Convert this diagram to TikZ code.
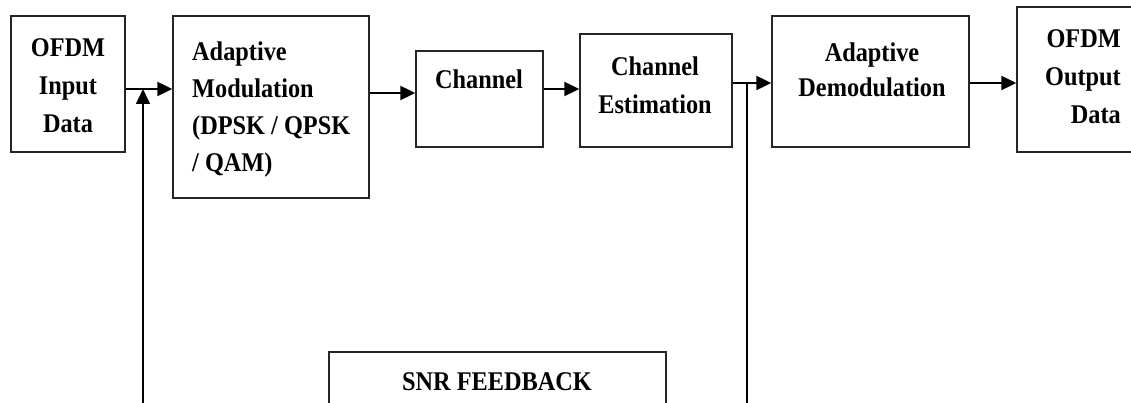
\documentclass[tikz,border=0pt]{standalone}
\usepackage{fontspec}
\setmainfont{Liberation Serif}[FakeStretch=0.9]
\usetikzlibrary{arrows.meta}
\begin{document}
\begin{tikzpicture}[x=1pt,y=-1pt,
  blk/.style={draw=black!85,line width=1.4pt,rectangle,inner sep=0pt},
  lbl/.style={inner sep=0pt,font=\bfseries\fontsize{27}{38}\selectfont},
  tip/.style={-{Triangle[length=15pt,width=14pt]}},
  arr/.style={line width=2.2pt,tip},
  fb/.style={line width=1.6pt}]
\useasboundingbox (0,0) rectangle (1131,403);
\clip (0,0) rectangle (1131,403);
% boxes
\node[blk,minimum width=114pt,minimum height=136pt] (inp) at (68,84) {};
\node[blk,minimum width=196pt,minimum height=182pt] (mod) at (271,107) {};
\node[blk,minimum width=127pt,minimum height=96pt] (ch) at (479.5,99) {};
\node[blk,minimum width=152pt,minimum height=113pt] (est) at (656,90.5) {};
\node[blk,minimum width=197pt,minimum height=131pt] (dem) at (870.5,81.5) {};
\node[blk,minimum width=130pt,minimum height=145pt] (out) at (1082,79.5) {};
\node[blk,minimum width=337pt,minimum height=80pt] (snr) at (497.5,392) {};
% labels
\node[lbl,align=center,anchor=north] (tinp) at (68,38) {OFDM\\Input\\Data};
\node[lbl,align=left,anchor=north west,font=\bfseries\fontsize{27}{37}\selectfont] (tmod) at (192,42) {Adaptive\\Modulation\\(DPSK / QPSK\\/ QAM)};
\node[lbl,anchor=north] (tch) at (479,70) {Channel};
\node[lbl,align=center,anchor=north] (test) at (655,57) {Channel\\Estimation};
\node[lbl,align=center,anchor=north,font=\bfseries\fontsize{27}{35}\selectfont] (tdem) at (872,43) {Adaptive\\Demodulation};
\node[lbl,align=right,anchor=north east] (tout) at (1121,29) {OFDM\\Output\\Data};
\node[lbl,anchor=north] (tsnr) at (497,372) {SNR FEEDBACK};
% levels
\coordinate (ya) at (0,89);
\coordinate (yb) at (0,93);
\coordinate (yc) at (0,89);
\coordinate (yd) at (0,83);
\coordinate (fbL) at (143,410);
\coordinate (fbR) at (747,410);
% connectors
\draw[arr] (inp.east |- ya) -- (mod.west |- ya);
\draw[arr] (mod.east |- yb) -- (ch.west |- yb);
\draw[arr] (ch.east |- yc) -- (est.west |- yc);
\draw[arr] (est.east |- yd) -- (dem.west |- yd);
\draw[arr] (dem.east |- yd) -- (out.west |- yd);
\draw[fb,tip] (fbL) -- (fbL |- ya);
\draw[fb] (fbR |- yd) -- (fbR);
\end{tikzpicture}
\end{document}
